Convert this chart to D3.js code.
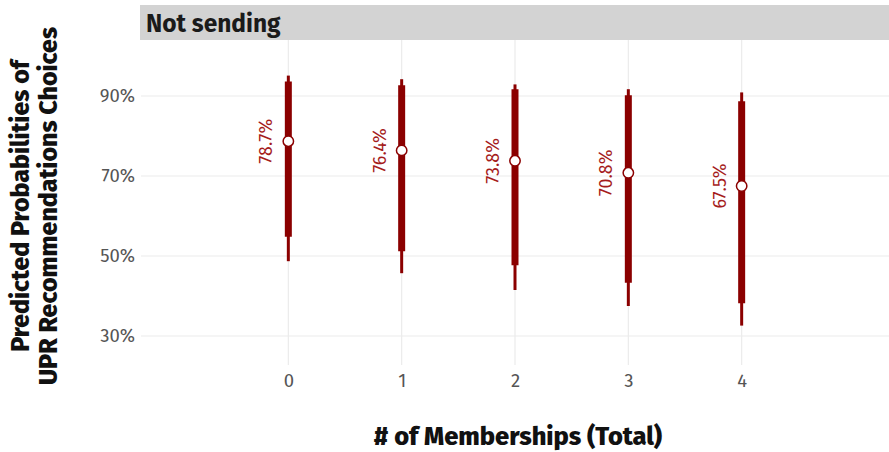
<!DOCTYPE html>
<html>
<head>
<meta charset="utf-8">
<script src="https://cdn.jsdelivr.net/npm/d3@7"></script>
<style>
  html, body { margin: 0; padding: 0; background: #fff; }
  svg { display: block; font-family: "Fira Sans", "Open Sans", "Noto Sans", sans-serif; }
</style>
</head>
<body>
<svg id="chart" width="889" height="452"></svg>
<script>
// Predicted probabilities by number of memberships
const memberships = [0, 1, 2, 3, 4];
const estimate   = [78.7, 76.4, 73.8, 70.8, 67.5];
const inner90Low = [54.8, 51.2, 47.7, 43.3, 38.2];
const inner90High= [93.6, 92.7, 91.7, 90.2, 88.7];
const outerLow   = [48.7, 45.7, 41.5, 37.5, 32.6];
const outerHigh  = [95.1, 94.2, 92.9, 91.7, 90.9];
const yTicks = [30, 50, 70, 90];
const panelTitle = "Not sending";

const rows = memberships.map((m, i) => ({
  m, est: estimate[i], lo: inner90Low[i], hi: inner90High[i], lo2: outerLow[i], hi2: outerHigh[i]
}));

const svg = d3.select("#chart");
const panel = { left: 141, right: 889, top: 40, bottom: 365 };

const x = d3.scaleLinear().domain([-1.3, 5.3]).range([panel.left, panel.right]);
const y = d3.scaleLinear().domain([22.75, 104]).range([panel.bottom, panel.top]);

const red = "#8b0000";
const grid = "#ebebeb";
const fontStack = "\"Fira Sans\", \"Open Sans\", sans-serif";

// facet strip
svg.append("rect").attr("x", panel.left - 1).attr("y", 5)
  .attr("width", panel.right - panel.left + 1).attr("height", 35)
  .attr("fill", "#d3d3d3");
svg.append("text").attr("x", 146).attr("y", 32)
  .attr("font-size", 24.5).attr("font-weight", 700).attr("fill", "#1a1a1a")
  .text(panelTitle);

// gridlines
const g = svg.append("g");
g.selectAll("line.hy").data(yTicks).join("line")
  .attr("x1", panel.left).attr("x2", panel.right)
  .attr("y1", d => y(d)).attr("y2", d => y(d))
  .attr("stroke", grid).attr("stroke-width", 1.2);
g.selectAll("line.vx").data(memberships).join("line")
  .attr("x1", d => x(d)).attr("x2", d => x(d))
  .attr("y1", panel.top).attr("y2", panel.bottom)
  .attr("stroke", grid).attr("stroke-width", 1.2);

// axes via d3 axis generators, restyled
const yAxis = svg.append("g").attr("transform", `translate(${panel.left},0)`)
  .call(d3.axisLeft(y).tickValues(yTicks).tickFormat(d => d + "%").tickSize(0).tickPadding(6));
yAxis.select(".domain").remove();
yAxis.selectAll("text").attr("font-size", 18.5).attr("fill", "#555")
  .attr("font-family", fontStack);

const xAxis = svg.append("g").attr("transform", `translate(0,${panel.bottom})`)
  .call(d3.axisBottom(x).tickValues(memberships).tickFormat(d3.format("d")).tickSize(0).tickPadding(9));
xAxis.select(".domain").remove();
xAxis.selectAll("text").attr("font-size", 18.5).attr("fill", "#555")
  .attr("font-family", fontStack);

// intervals
const marks = svg.append("g");
marks.selectAll("line.outer").data(rows).join("line")
  .attr("x1", d => x(d.m)).attr("x2", d => x(d.m))
  .attr("y1", d => y(d.lo2)).attr("y2", d => y(d.hi2))
  .attr("stroke", red).attr("stroke-width", 3);
marks.selectAll("line.inner").data(rows).join("line")
  .attr("x1", d => x(d.m)).attr("x2", d => x(d.m))
  .attr("y1", d => y(d.lo)).attr("y2", d => y(d.hi))
  .attr("stroke", red).attr("stroke-width", 7);
marks.selectAll("circle").data(rows).join("circle")
  .attr("cx", d => x(d.m)).attr("cy", d => y(d.est)).attr("r", 5.2)
  .attr("fill", "#fff").attr("stroke", red).attr("stroke-width", 1.5);

// value labels, rotated
marks.selectAll("text").data(rows).join("text")
  .attr("transform", d => `translate(${x(d.m) - 16},${y(d.est)}) rotate(-90)`)
  .attr("text-anchor", "middle")
  .attr("font-size", 18).attr("fill", "#a51c1c")
  .text(d => d.est.toFixed(1) + "%");

// axis titles
svg.append("text").attr("x", 518).attr("y", 445)
  .attr("text-anchor", "middle").attr("font-size", 25.5).attr("font-weight", 800)
  .attr("fill", "#111").text("# of Memberships (Total)");

const yt = svg.append("text").attr("transform", "translate(0,206) rotate(-90)")
  .attr("text-anchor", "middle").attr("font-size", 25).attr("font-weight", 800).attr("fill", "#111");
yt.append("tspan").attr("x", 0).attr("y", 29).text("Predicted Probabilities of");
yt.append("tspan").attr("x", 0).attr("y", 57).text("UPR Recommendations Choices");
</script>
</body>
</html>
